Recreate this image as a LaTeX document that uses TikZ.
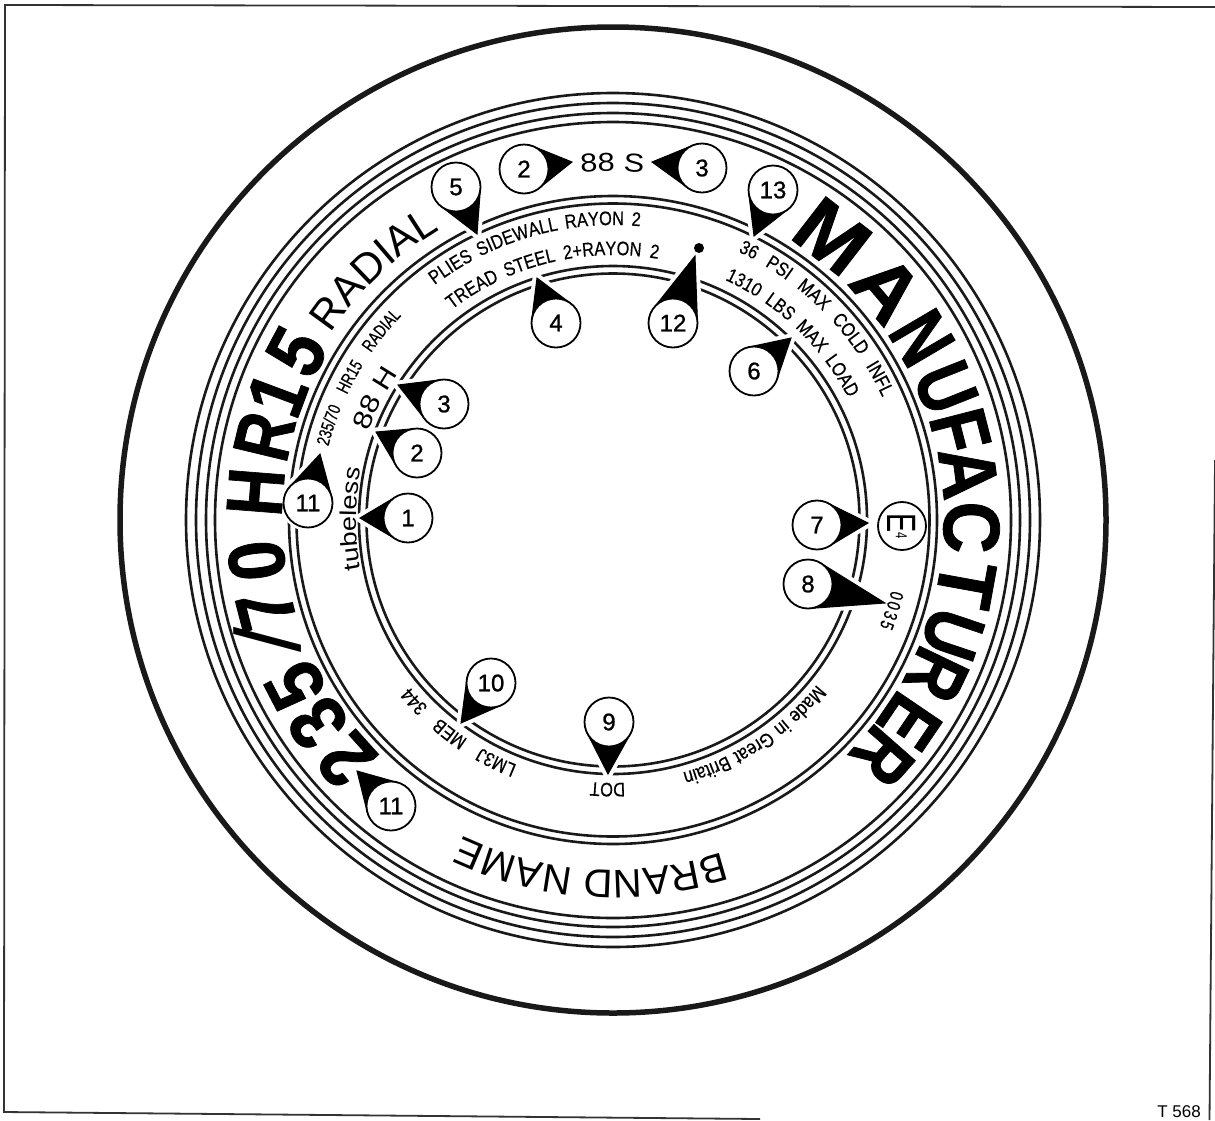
\documentclass[tikz,border=0pt]{standalone}
\usepackage{fontspec}
\usepackage{graphicx}
\setmainfont{Liberation Sans}
\newfontfamily\bigfam[FakeBold=1.0]{Liberation Sans}
\newfontfamily\smallfam[FakeStretch=0.84,FakeBold=0.5]{Liberation Sans}
\newfontfamily\tightfam[FakeStretch=0.74,FakeBold=0.5]{Liberation Sans}
\newfontfamily\efam[FakeStretch=0.7]{Liberation Sans}
\newfontfamily\widefam[FakeStretch=1.18]{Liberation Sans}
\newfontfamily\numfam[FakeBold=1.0]{Liberation Sans}
\usetikzlibrary{calc,decorations.text}
\newcommand\bigfnt{\bigfam\bfseries\fontsize{80}{80}\selectfont}
\newcommand\slashfnt{\fontsize{92}{92}\selectfont}
\newcommand\smallfnt{\smallfam\fontsize{19.5}{19.5}\selectfont}
\newcommand\tightfnt{\tightfam\fontsize{18}{18}\selectfont}
\newcommand\brandfnt{\fontsize{40}{40}\selectfont}
\newcommand\radfnt{\fontsize{42}{42}\selectfont}
\newcommand\wfnt{\widefam\fontsize{26}{26}\selectfont}
\newcommand\tubefnt{\widefam\fontsize{23}{23}\selectfont}
\newcommand\madefnt{\smallfam\fontsize{20}{20}\selectfont}
\newcommand\codefnt{\tightfam\fontsize{19}{19}\selectfont}
\pgfdeclarelayer{rings}
\pgfdeclarelayer{wedges}
\pgfsetlayers{rings,wedges,main}
\tikzset{
  framel/.style={draw=black!80,line width=1.8pt},
  tyre/.style={draw=black!90,line width=5.5pt},
  ring/.style={draw=black!90,line width=2.6pt},
  callcirc/.style={circle,draw=black,line width=1.8pt,fill=white,inner sep=0pt,outer sep=0pt,
    minimum size=49pt,font=\numfam\fontsize{24}{24}\selectfont},
  halo/.style={draw=white,fill=white,line width=9pt,line join=round},
  wedge/.style={fill=black,draw=black,line width=1pt,line join=miter},
  letterbox/.style={anchor=base,inner sep=0pt,outer sep=0pt}
}
% args: name, centre, tip, label
\newcommand\callout[4]{%
  \node[callcirc] (#1) at (#2) {#4};
  \coordinate (#1t) at (#3);
  \begin{pgfonlayer}{wedges}
    \path[halo] (#1t) -- (tangent cs:node=#1,point={(#1t)},solution=1)
      -- (tangent cs:node=#1,point={(#1t)},solution=2) -- cycle;
    \fill[white] (#1) circle (28pt);
    \path[wedge] (#1t) -- (tangent cs:node=#1,point={(#1t)},solution=1)
      -- (tangent cs:node=#1,point={(#1t)},solution=2) -- cycle;
  \end{pgfonlayer}
}
% args: [align], font, radius, start, end, text
\newcommand\arctext[6][fit to path]{%
  \path[decorate,decoration={text along path,text align={#1},text={|#2|#6}}]
    (c) ++(#4:#3pt) arc[start angle=#4,end angle=#5,radius=#3pt];
}
% args: name, angle, x scale, char  (one large letter on the 331 baseline)
\newcommand\bigletter[4]{%
  \pgfmathsetmacro\rotang{#2-90}%
  \node[letterbox,rotate=\rotang,font=\bigfnt] (#1) at ($(c)+(#2:331pt)$) {\scalebox{#3}[1]{#4}};
}
\begin{document}
\begin{tikzpicture}[x=1pt,y=-1pt]
\useasboundingbox (0,0) rectangle (1215,1120);
\coordinate (c) at (613,520);
% frame
\coordinate (fa) at (4,1112);
\coordinate (fb) at (5,5);
\coordinate (fc) at (1215,7);
\coordinate (fd) at (1215,460);
\coordinate (fe) at (1209.5,1120);
\coordinate (ff) at (760,1119);
\draw[framel] (ff) -- (fa) -- (fb) -- (fc);
\draw[framel] (fd) -- (fe);
% tyre rings
\begin{pgfonlayer}{rings}
  \draw[tyre] (c) circle (493pt);
  \foreach \r in {427,417,407,398} \draw[ring] (c) circle (\r pt);
  \foreach \r in {324,316.5,254,246.5} \draw[ring] (c) circle (\r pt);
\end{pgfonlayer}
% MANUFACTURER
\bigletter{m1}{52.3}{1.05}{M}
\bigletter{m2}{40.2}{1.05}{A}
\bigletter{m3}{30.5}{.8}{N}
\bigletter{m4}{21.7}{.8}{U}
\bigletter{m5}{14.4}{.85}{F}
\bigletter{m6}{7.6}{.9}{A}
\bigletter{m7}{-1.2}{.9}{C}
\bigletter{m8}{-10.3}{.95}{T}
\bigletter{m9}{-18.6}{.8}{U}
\bigletter{m10}{-25.6}{.8}{R}
\bigletter{m11}{-34.2}{.85}{E}
\bigletter{m12}{-41.3}{.8}{R}
% 235/70 HR15
\bigletter{s1}{222}{.9}{2}
\bigletter{s2}{214.5}{.9}{3}
\bigletter{s3}{207.5}{.9}{5}
\node[inner sep=0pt,outer sep=0pt,rotate=90.3,font=\slashfnt] (s4) at (268,640) {/};
\bigletter{s5}{194.5}{.85}{7}
\bigletter{s6}{186.5}{.9}{0}
\bigletter{s7}{175.5}{.82}{H}
\bigletter{s8}{166.5}{.78}{R}
\bigletter{s9}{159.5}{.85}{1}
\bigletter{s10}{152}{.88}{5}
% light large texts
\arctext{\brandfnt}{350}{-71.8}{-113.4}{BRAND NAME}
\arctext{\radfnt}{338}{146.5}{122}{RADIAL}
\arctext{\wfnt}{349}{95.3}{85.1}{88 S}
% small texts
\arctext[fit to path stretching spaces]{\smallfnt}{295}{127.2}{84.7}{PLIES SIDEWALL RAYON 2}
\arctext[fit to path stretching spaces]{\smallfnt}{265}{127.4}{80.2}{TREAD STEEL 2+RAYON 2}
\arctext[fit to path stretching spaces]{\smallfnt}{296}{65}{24.5}{36 PSI MAX COLD INFL}
\arctext[fit to path stretching spaces]{\smallfnt}{265}{65}{27.4}{1310 LBS MAX LOAD}
\arctext[fit to path stretching spaces]{\tightfnt}{294}{165.5}{136}{235/70 HR15 RADIAL}
\arctext{\tubefnt}{257}{191}{169}{tubeless}
\arctext{\wfnt}{260}{160}{146}{88 H}
\arctext{\codefnt}{287}{-14.2}{-21.8}{0035}
\arctext[fit to path stretching spaces]{\madefnt}{262}{-38.9}{-74.6}{Made in Great Britain}
\arctext{\smallfnt}{263}{-87.4}{-94.6}{DOT}
\arctext[fit to path stretching spaces]{\smallfnt}{263}{-111.4}{-140.6}{LM3J MEB 344}
% E mark
\node[circle,draw=black,line width=1.8pt,inner sep=0pt,minimum size=48pt,rotate=-90,
  font=\efam\fontsize{41}{41}\selectfont] (emark) at (902,526)
  {\raisebox{0pt}{E}\raisebox{8pt}{\fontsize{16}{16}\selectfont 4}};
% dot
\node[circle,fill=black,inner sep=0pt,minimum size=10pt] (dot) at (699,248) {};
% callouts
\callout{a}{408,518}{360,518}{1}
\callout{b}{417,453}{376,432}{2}
\callout{d}{444,404}{398,385}{3}
\callout{k}{308,503}{320,454}{11}
\callout{e}{456,187}{477,234}{5}
\callout{f}{524,169}{572,162}{2}
\callout{g}{702,168}{652,162}{3}
\callout{o13}{773,190}{754,236}{13}
\callout{h}{556,323}{537,278}{4}
\callout{l}{673,323}{695,256}{12}
\callout{n}{754,371}{791,338}{6}
\callout{o}{817,525}{868,523}{7}
\callout{p}{808,584}{885,603}{8}
\callout{q}{609,722}{608,774}{9}
\callout{r}{491,683}{461,723}{10}
\callout{o11}{391,806}{357,771}{11}
% reference mark
\node[anchor=base east,inner sep=0pt,font=\fontsize{17}{17}\selectfont] (ref) at (1201,1117) {T 568};
\end{tikzpicture}
\end{document}
